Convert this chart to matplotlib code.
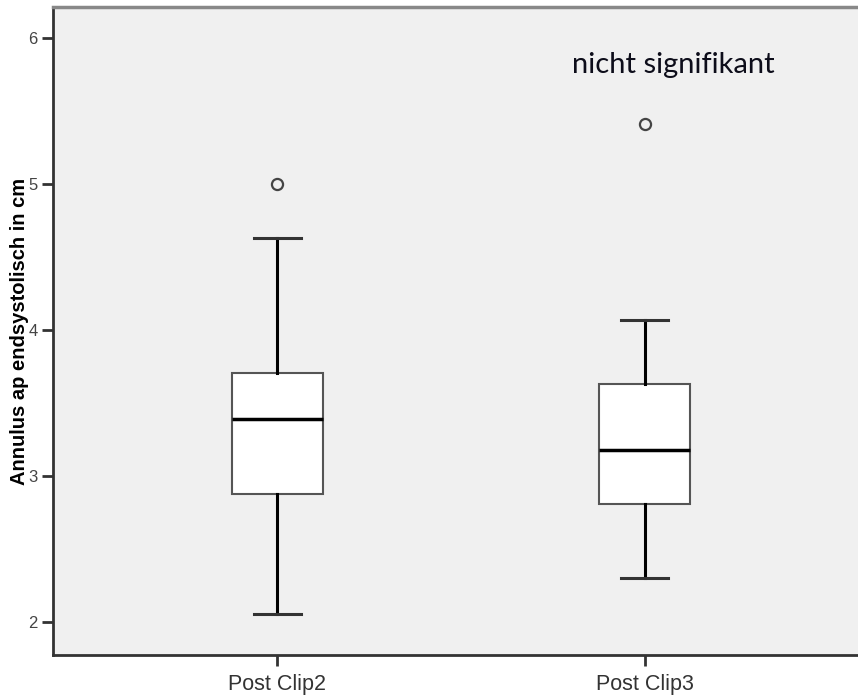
import matplotlib
matplotlib.use("Agg")
import matplotlib.pyplot as plt

# Box statistics per group (cm)
groups = ["Post Clip2", "Post Clip3"]
whisker_low = [2.06, 2.30]
q1 = [2.88, 2.81]
median = [3.39, 3.18]
q3 = [3.71, 3.63]
whisker_high = [4.63, 4.07]
outliers = [[5.00], [5.41]]

annotation = "nicht signifikant"
ylabel = "Annulus ap endsystolisch in cm"
yticks = [2, 3, 4, 5, 6]

stats = []
for i, name in enumerate(groups):
    stats.append(dict(label=name, whislo=whisker_low[i], q1=q1[i], med=median[i],
                      q3=q3[i], whishi=whisker_high[i], fliers=outliers[i]))

fig = plt.figure(figsize=(8.58, 6.95), dpi=100)
ax = fig.add_axes([53 / 858, 40 / 695, 1 - 53 / 858 + 0.002, (655 - 6.5) / 695])
ax.set_facecolor("#f0f0f0")

positions = [1, 2]
ax.bxp(stats, positions=positions, widths=0.248, patch_artist=True,
       capwidths=0.128,
       boxprops=dict(facecolor="white", edgecolor="#555555", linewidth=1.5),
       medianprops=dict(color="black", linewidth=2.5),
       whiskerprops=dict(color="black", linewidth=2.2),
       capprops=dict(color="#333333", linewidth=2.2),
       flierprops=dict(marker="o", markersize=8, markerfacecolor="none",
                       markeredgecolor="#444444", markeredgewidth=1.6))

ax.set_xlim(0.39, 2.585)
ax.set_ylim(1.776, 6.218)
ax.set_yticks(yticks)
ax.set_yticklabels([str(t) for t in yticks], fontsize=12, color="#444444",
                   family="Liberation Sans")
ax.set_xticks(positions)
ax.set_xticklabels(groups, fontsize=15.5, color="#333333", family="Liberation Sans")
ax.tick_params(axis="both", length=8, width=2, color="#333333")
ax.tick_params(axis="x", pad=6)
ax.tick_params(axis="y", pad=3)

# Vertical axis title, placed just left of the tick labels
fig.text(20 / 858, 1 - 331 / 695, ylabel, rotation=90, fontsize=14.5,
         fontweight="bold", family="Liberation Sans", color="black",
         ha="center", va="center")

for side in ("left", "bottom"):
    ax.spines[side].set_color("#333333")
    ax.spines[side].set_linewidth(2)
ax.spines["top"].set_color("#888888")
ax.spines["top"].set_linewidth(2.5)
ax.spines["right"].set_visible(False)

ax.text(2.079, 5.76, annotation, fontsize=21, family="Lato", color="#0d0d1a",
        ha="center", va="baseline")

fig.savefig("out.png", dpi=100, facecolor="white")
